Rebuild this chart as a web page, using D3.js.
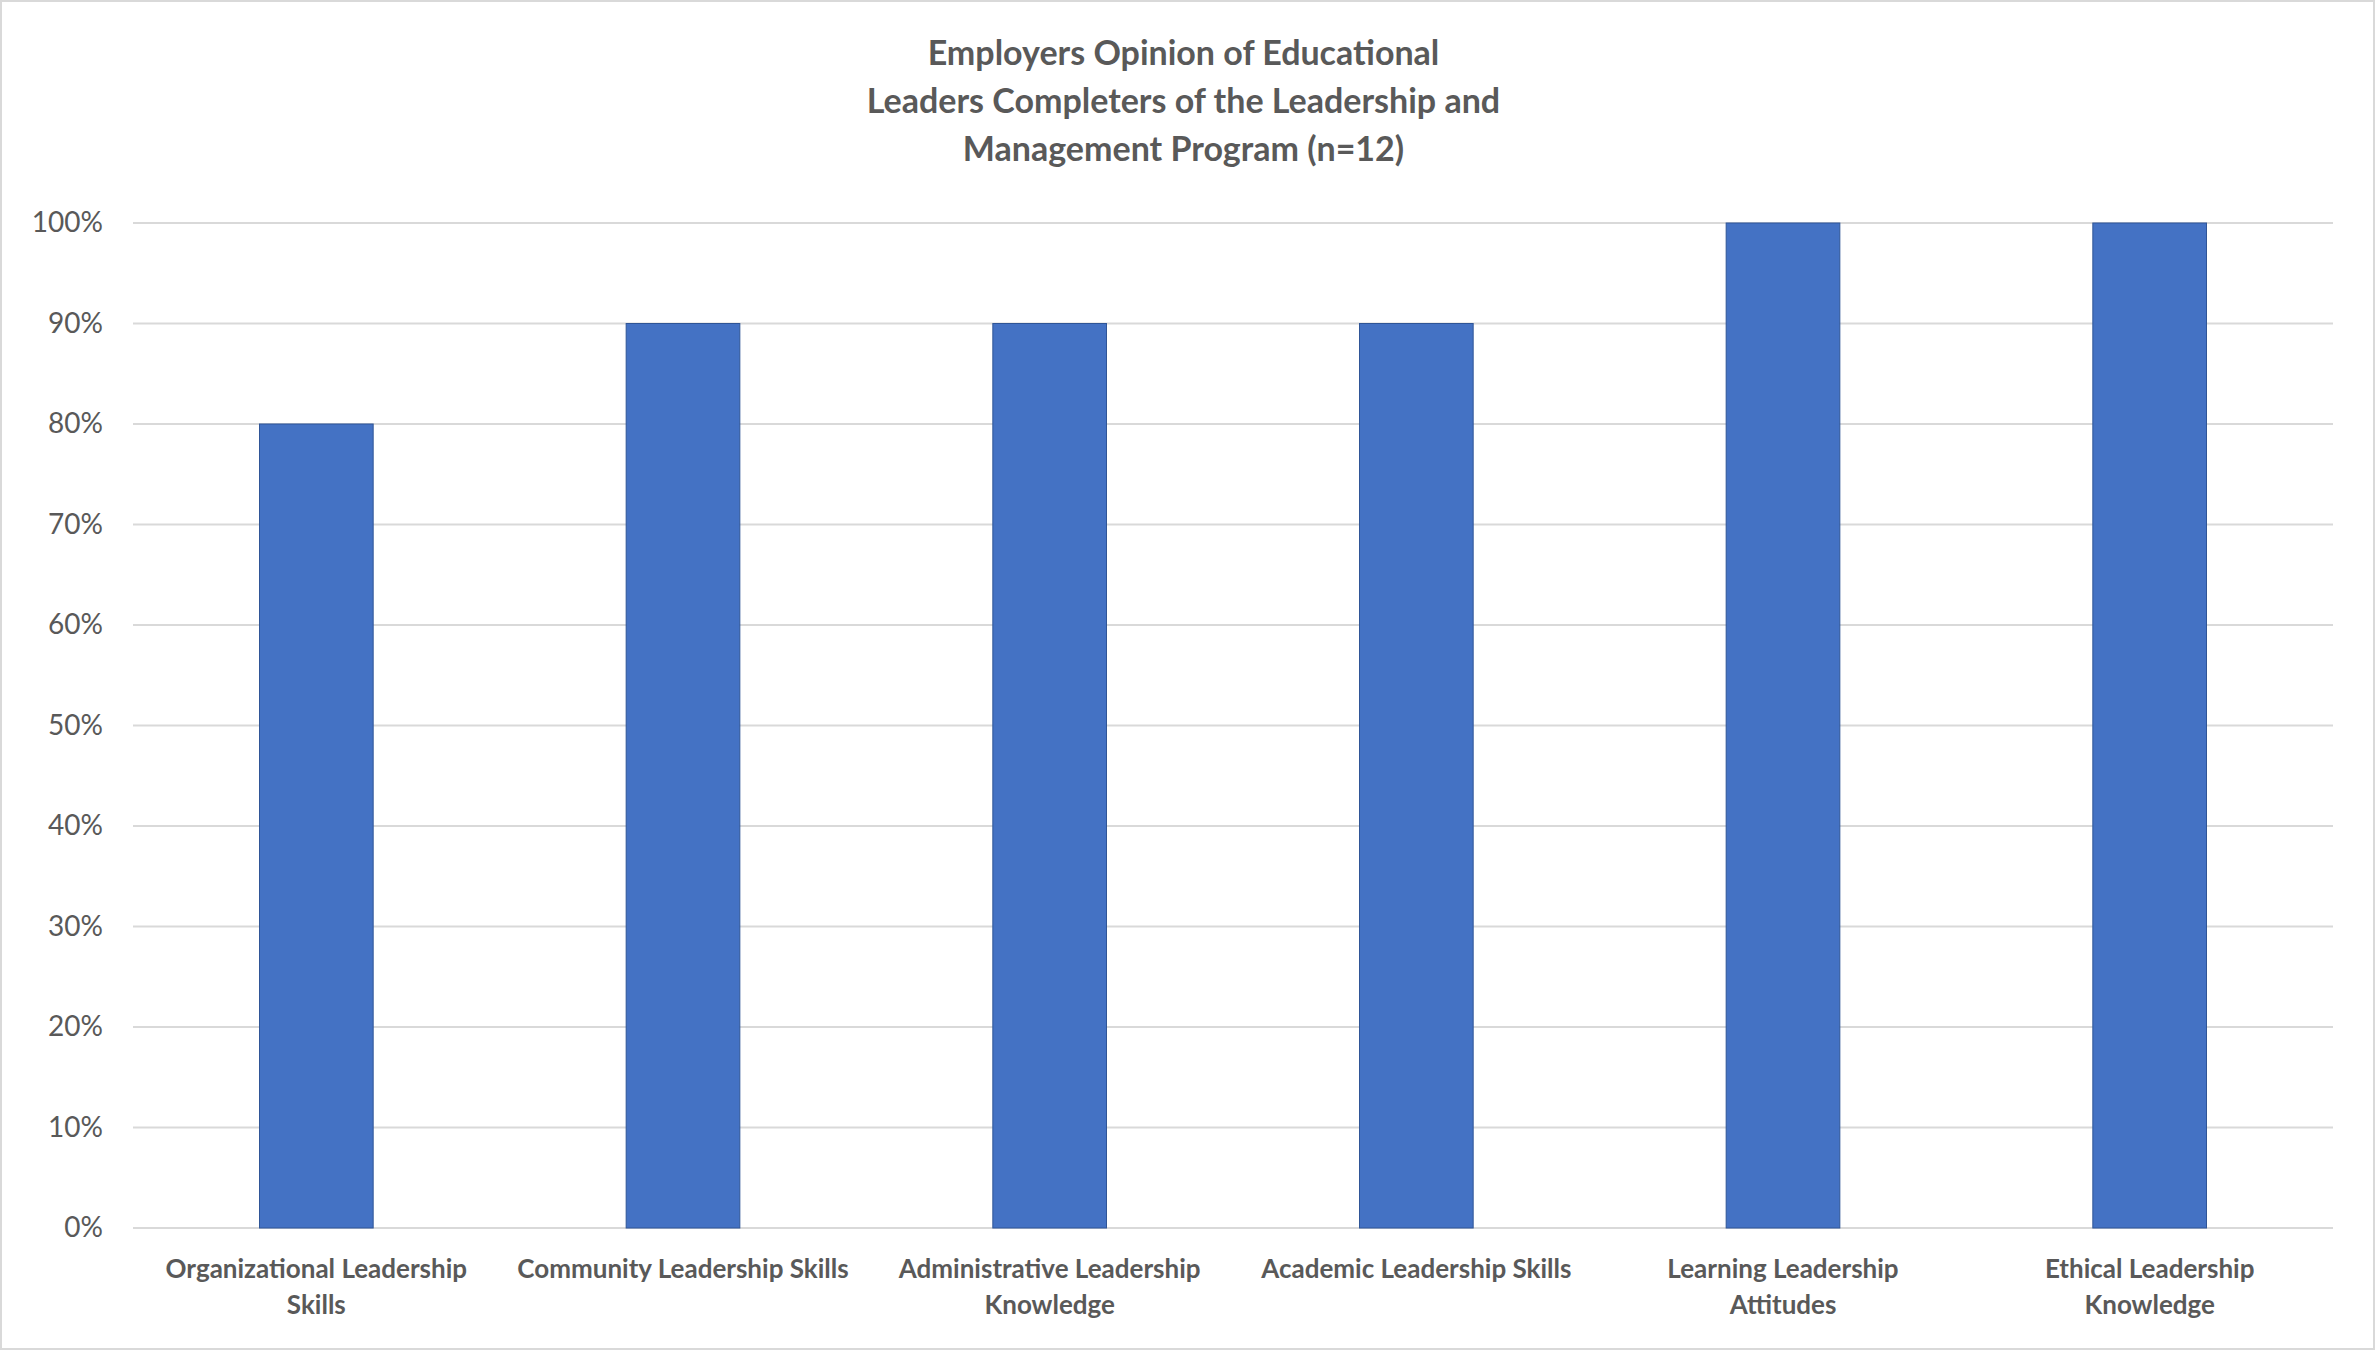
<!DOCTYPE html>
<html><head><meta charset="utf-8">
<script src="https://cdn.jsdelivr.net/npm/d3@7"></script>
<style>body{margin:0;background:#fff}svg{display:block}</style>
</head><body>
<script>
const categories = [["Organizational Leadership","Skills"],["Community Leadership Skills"],["Administrative Leadership","Knowledge"],["Academic Leadership Skills"],["Learning Leadership","Attitudes"],["Ethical Leadership","Knowledge"]];
const values = [0.8,0.9,0.9,0.9,1.0,1.0];
const yTicks = [0,0.1,0.2,0.3,0.4,0.5,0.6,0.7,0.8,0.9,1.0];
const titleLines = ["Employers Opinion of Educational","Leaders Completers of the Leadership and","Management Program (n=12)"];

const W=2375,H=1350, L=133, R=2333, T=223, B=1228;
const svg=d3.select("body").append("svg").attr("width",W).attr("height",H).style("font-family","Lato, 'Open Sans', sans-serif");
svg.append("rect").attr("x",1).attr("y",1).attr("width",W-2).attr("height",H-2).attr("fill","#fff").attr("stroke","#d9d9d9").attr("stroke-width",2);
const x=d3.scaleBand().domain(d3.range(categories.length)).range([L,R]).paddingInner(0.69).paddingOuter(0.345);
const y=d3.scaleLinear().domain([0,1]).range([B,T]);
const g=svg.append("g");
g.selectAll("line.grid").data(yTicks).join("line").attr("x1",L).attr("x2",R).attr("y1",d=>y(d)).attr("y2",d=>y(d)).attr("stroke","#d9d9d9").attr("stroke-width",2);
const ya=svg.append("g").attr("transform",`translate(${L},0)`).call(d3.axisLeft(y).tickValues(yTicks).tickFormat(d3.format(".0%")).tickSize(0).tickPadding(30));
ya.select(".domain").remove();
ya.selectAll("text").attr("font-size",28).attr("fill","#595959").style("font-family","Lato, 'Open Sans', sans-serif");
g.selectAll("rect.bar").data(values).join("rect").attr("x",(d,i)=>x(i)).attr("width",x.bandwidth()).attr("y",d=>y(d)).attr("height",d=>B-y(d)).attr("fill","#4472c4").attr("stroke","#2f5597").attr("stroke-width",1);
const xl=svg.append("g");
categories.forEach((c,i)=>{
  c.forEach((t,j)=>xl.append("text").attr("x",x(i)+x.bandwidth()/2).attr("y",1278+j*36).attr("text-anchor","middle").attr("font-size",26).attr("font-weight","bold").attr("fill","#595959").text(t));
});
titleLines.forEach((t,j)=>svg.append("text").attr("x",W/2-4).attr("y",65+j*48).attr("text-anchor","middle").attr("font-size",34).attr("font-weight","bold").attr("fill","#595959").text(t));
</script>
</body></html>
